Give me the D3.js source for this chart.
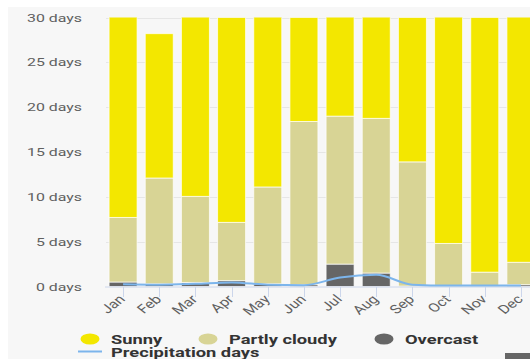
<!DOCTYPE html>
<html>
<head>
<meta charset="utf-8">
<script src="https://cdn.jsdelivr.net/npm/d3@7"></script>
<style>
  html, body { margin: 0; padding: 0; background: #ffffff; }
  svg { display: block; font-family: Roboto, "Noto Sans", sans-serif; }
</style>
</head>
<body>
<svg id="chart" width="530" height="359"></svg>
<script>
// Monthly sky conditions (days per month)
const months = ["Jan","Feb","Mar","Apr","May","Jun","Jul","Aug","Sep","Oct","Nov","Dec"];
const overcast = [0.5, 0.3, 0.45, 0.65, 0.3, 0.2, 2.5, 1.5, 0.05, 0.05, 0.05, 0.2];
const partlyCloudy = [7.2, 11.8, 9.6, 6.5, 10.8, 18.2, 16.5, 17.25, 13.85, 4.75, 1.55, 2.5];
const sunny = [23.3, 16.1, 20.95, 22.85, 19.9, 11.6, 12.0, 12.25, 16.1, 26.2, 28.4, 28.3];
const precipitation = [0.25, 0.2, 0.3, 0.45, 0.2, 0.15, 1.0, 1.3, 0.2, 0.1, 0.1, 0.1];
const yTicks = [0, 5, 10, 15, 20, 25, 30];

const colors = { "Sunny": "#f3e700", "Partly cloudy": "#d8d495", "Overcast": "#666666", "Precipitation days": "#7cb5ec" };

const svg = d3.select("#chart");
const W = 530, H = 359;
const sx = 1.42; // horizontal text stretch

// chart background
svg.append("rect").attr("x", 8).attr("y", 7).attr("width", W - 8).attr("height", H - 7).attr("fill", "#f7f7f7");

const x = d3.scaleBand().domain(months).range([105, 539]).paddingInner(0.226).paddingOuter(0.113);
const y = d3.scaleLinear().domain([0, 30]).range([286.5, 17.5]);

// gridlines
svg.append("g").selectAll("line").data(yTicks.filter(d => d > 0)).join("line")
  .attr("x1", 106).attr("x2", W)
  .attr("y1", d => Math.round(y(d)) + 0.5).attr("y2", d => Math.round(y(d)) + 0.5)
  .attr("stroke", "#e6e6e6").attr("stroke-width", 1);

function stretchedText(sel, x0, y0, txt, anchor, opts) {
  const g = sel.append("g").attr("transform", `translate(${x0},${y0}) scale(${opts.sx || sx},1) ${opts.rotate ? `rotate(${opts.rotate})` : ""}`);
  return g.append("text").attr("text-anchor", anchor).text(txt)
    .attr("font-size", opts.size).attr("fill", opts.fill).attr("font-weight", opts.weight || "normal");
}

// y labels
const yAxisG = svg.append("g");
yTicks.forEach(t => {
  stretchedText(yAxisG, 82, y(t) + 4, `${t} days`, "end", { size: 11.2, fill: "#606060" });
});

// stacked bars
const rows = months.map((m, i) => ({ month: m, "Overcast": overcast[i], "Partly cloudy": partlyCloudy[i], "Sunny": sunny[i] }));
const stacked = d3.stack().keys(["Overcast", "Partly cloudy", "Sunny"])(rows);

svg.append("clipPath").attr("id", "plotClip")
  .append("rect").attr("x", 100).attr("y", y(30)).attr("width", 440).attr("height", y(0) - y(30) + 1);

const barsG = svg.append("g").attr("clip-path", "url(#plotClip)");
stacked.forEach(layer => {
  barsG.append("g").selectAll("rect").data(layer).join("rect")
    .attr("x", d => x(d.data.month))
    .attr("width", x.bandwidth())
    .attr("y", d => y(d[1]))
    .attr("height", d => Math.max(0, y(d[0]) - y(d[1])))
    .attr("fill", colors[layer.key])
    .attr("stroke", "#ffffff").attr("stroke-opacity", 0.7).attr("stroke-width", 1);
});

// x axis line and ticks
svg.append("line").attr("x1", 105).attr("x2", W).attr("y1", 287).attr("y2", 287)
  .attr("stroke", "#ccd6eb").attr("stroke-width", 1);
svg.append("g").selectAll("line").data(months).join("line")
  .attr("x1", d => Math.round(x(d) + x.bandwidth() / 2) + 0.5)
  .attr("x2", d => Math.round(x(d) + x.bandwidth() / 2) + 0.5)
  .attr("y1", 287).attr("y2", 297)
  .attr("stroke", "#ccd6eb").attr("stroke-width", 1);

// precipitation line
const line = d3.line()
  .x((d, i) => x(months[i]) + x.bandwidth() / 2)
  .y(d => y(d))
  .curve(d3.curveMonotoneX);
svg.append("path").datum(precipitation)
  .attr("d", line).attr("fill", "none")
  .attr("stroke", colors["Precipitation days"]).attr("stroke-width", 2);

// x labels (rotated)
const xLabG = svg.append("g");
months.forEach(m => {
  const cx = x(m) + x.bandwidth() / 2;
  stretchedText(xLabG, cx + 3, 300, m, "end", { size: 12.3, fill: "#606060", rotate: -45, sx: 1.3 });
});

// legend
const legend = svg.append("g");
const legendItems = [
  { name: "Sunny", sym: "circle", cx: 90, ty: 343.5, tx: 111 },
  { name: "Partly cloudy", sym: "circle", cx: 208, ty: 343.5, tx: 229 },
  { name: "Overcast", sym: "circle", cx: 384, ty: 343.5, tx: 405 },
  { name: "Precipitation days", sym: "line", cx: 90, ty: 357, tx: 111 }
];
legendItems.forEach(it => {
  if (it.sym === "circle") {
    legend.append("ellipse").attr("cx", it.cx).attr("cy", it.ty - 4.5).attr("rx", 9.5).attr("ry", 5.5)
      .attr("fill", colors[it.name]);
  } else {
    legend.append("line").attr("x1", it.cx - 12).attr("x2", it.cx + 12)
      .attr("y1", it.ty - 5.5).attr("y2", it.ty - 5.5)
      .attr("stroke", colors[it.name]).attr("stroke-width", 2);
  }
  stretchedText(legend, it.tx, it.ty, it.name, "start", { size: 12.2, fill: "#333333", weight: "bold", sx: 1.5 });
});

// partially visible navigation button
svg.append("rect").attr("x", 505).attr("y", 353).attr("width", 25).attr("height", 6).attr("fill", "#666666");
</script>
</body>
</html>
